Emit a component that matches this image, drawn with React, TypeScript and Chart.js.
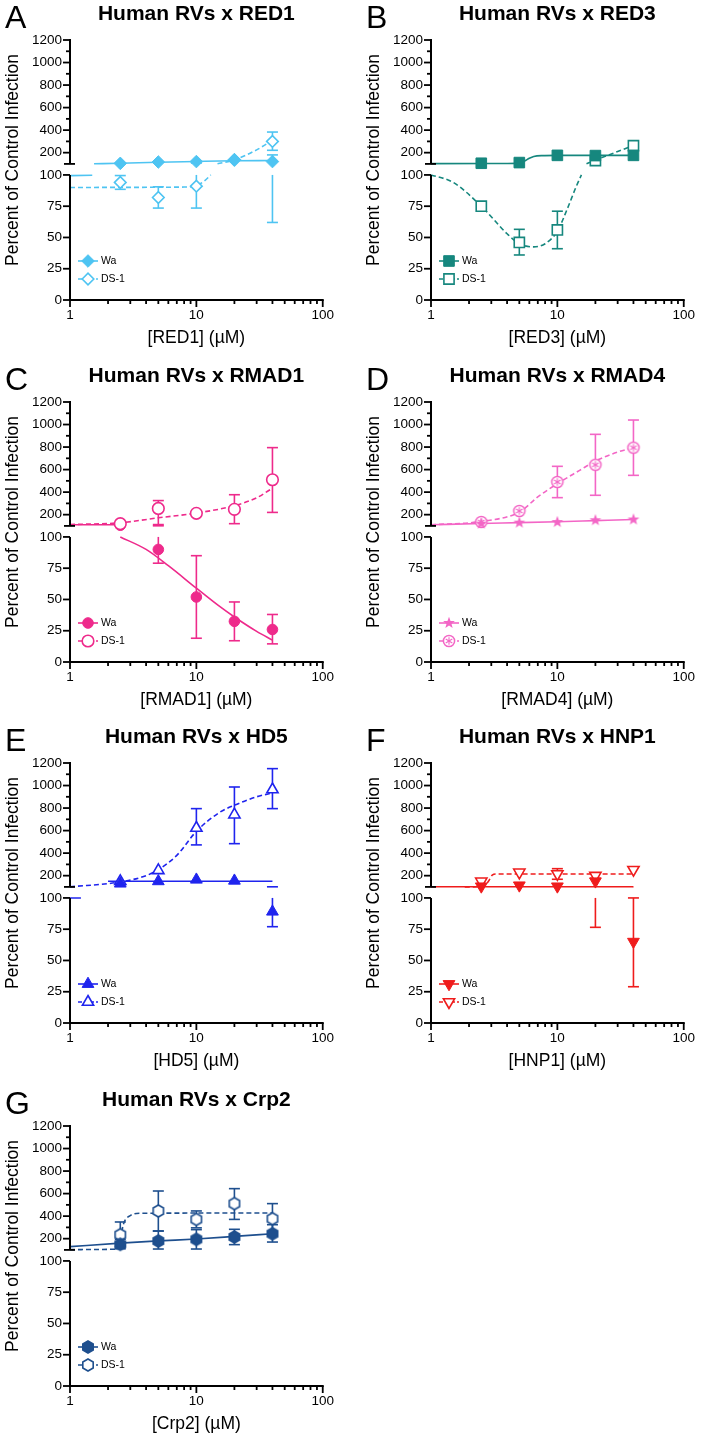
import React, { useEffect, useRef } from 'react';
import { Chart, registerables } from 'chart.js';
import { drawPoint } from 'chart.js/helpers';

Chart.register(...registerables);

const FONT = "'Liberation Sans', Arial, Helvetica, sans-serif";
Chart.defaults.font.family = FONT;

// ---------- shared ----------
const CONC = [2.5, 5, 10, 20, 40];
const X_TICKS = [1, 10, 100];
const X_MINOR = [2, 3, 4, 5, 6, 7, 8, 9, 20, 30, 40, 50, 60, 70, 80, 90];
const Y_TICKS = [0, 25, 50, 75, 100, 200, 400, 600, 800, 1000, 1200];
const Y_MINOR = [300, 500, 700, 900, 1100];
const SERIES_NAMES = ['Wa', 'DS-1'];
const Y_TITLE = 'Percent of Control Infection';

type Pair = [number, number];
type N = number | null;

// ---------- Panel A : RED1 ----------
const A_WA = [105, 117, 121, 138, 121];
const A_WA_LO: N[] = [null, null, null, null, 62];
const A_WA_HI: N[] = [null, null, null, null, 180];
const A_WA_FIT_LOW: Pair[] = [[1, 99.4], [1.5, 99.8]];
const A_WA_FIT_UP: Pair[] = [[1.55, 101], [2.5, 106], [5, 115], [10, 122], [20, 128], [40, 130]];
const A_DS = [94, 82, 91, 135, 300];
const A_DS_LO: N[] = [88.5, 73.5, 73.5, null, 221];
const A_DS_HI: N[] = [99.5, 90.5, 108, null, 383];
const A_DS_FIT_LOW: Pair[] = [[1, 90], [8, 90.3], [10, 91.5], [11.5, 95], [13, 100]];
const A_DS_FIT_UP: Pair[] = [[14.7, 101], [20, 136], [30, 225], [40, 310]];

// ---------- Panel B : RED3 ----------
const B_WA = [106, 112, 176, 174, 176];
const B_WA_LO: N[] = [null, null, null, null, null];
const B_WA_HI: N[] = [null, null, null, null, null];
const B_WA_FIT_LOW: Pair[] = [];
const B_WA_FIT_UP: Pair[] = [[1, 103], [4, 104], [5, 107], [5.5, 125], [6, 150], [6.5, 166], [7.5, 174], [10, 176], [40, 176]];
const B_DS = [75, 46, 56, 130, 262];
const B_DS_LO: N[] = [null, 36, 41, null, null];
const B_DS_HI: N[] = [null, 56.5, 71, null, null];
const B_DS_FIT_LOW: Pair[] = [[1, 100], [1.5, 94], [2.5, 75], [4, 53], [5, 45], [6.5, 42.5], [8, 45], [10, 55], [12, 73], [14, 90], [15.5, 100]];
const B_DS_FIT_UP: Pair[] = [[17, 101], [20, 135], [30, 210], [40, 265]];

// ---------- Panel C : RMAD1 ----------
const C_WA = [106, 90, 52, 32.5, 26];
const C_WA_LO: N[] = [null, 79, 19, 17, 14.5];
const C_WA_HI: N[] = [null, 101, 85, 48, 38];
const C_WA_FIT_LOW: Pair[] = [[2.5, 100], [4, 90], [6, 77], [10, 59], [15, 45], [20, 36], [30, 24.5], [40, 17.5]];
const C_WA_FIT_UP: Pair[] = [[1, 111], [2.4, 110]];
const C_DS = [120, 255, 212, 247, 510];
const C_DS_LO: N[] = [null, 112, null, 120, 220];
const C_DS_HI: N[] = [null, 325, null, 377, 795];
const C_DS_FIT_LOW: Pair[] = [];
const C_DS_FIT_UP: Pair[] = [[1, 112], [2.5, 128], [5, 172], [10, 214], [20, 280], [30, 350], [40, 435]];

// ---------- Panel D : RMAD4 ----------
const D_WA = [120, 129, 134, 150, 157];
const D_WA_LO: N[] = [null, null, null, null, null];
const D_WA_HI: N[] = [null, null, null, null, null];
const D_WA_FIT_LOW: Pair[] = [];
const D_WA_FIT_UP: Pair[] = [[1, 110], [2.5, 122], [5, 129], [10, 137], [20, 147], [40, 157]];
const D_DS = [135, 233, 490, 643, 795];
const D_DS_LO: N[] = [null, null, 351, 372, 549];
const D_DS_HI: N[] = [null, null, 629, 913, 1040];
const D_DS_FIT_LOW: Pair[] = [];
const D_DS_FIT_UP: Pair[] = [[1, 110], [2.5, 140], [5, 223], [7, 357], [10, 475], [15, 593], [20, 676], [30, 756], [40, 795]];

// ---------- Panel E : HD5 ----------
const E_WA = [129, 150, 164, 155, 89];
const E_WA_LO: N[] = [null, null, null, null, 77];
const E_WA_HI: N[] = [null, null, null, null, 101];
const E_WA_FIT_LOW: Pair[] = [[1, 100], [1.22, 100]];
const E_WA_FIT_UP: Pair[] = [[2.0, 150], [40, 150]];
const E_DS = [150, 247, 623, 741, 965];
const E_DS_LO: N[] = [null, null, 473, 484, 795];
const E_DS_HI: N[] = [null, null, 795, 987, 1150];
const E_DS_FIT_LOW: Pair[] = [];
const E_DS_FIT_UP: Pair[] = [[1, 100.5], [2.5, 144], [4, 200], [5, 253], [7, 380], [10, 593], [15, 756], [20, 825], [30, 900], [40, 934]];

// ---------- Panel F : HNP1 ----------
const F_WA = [105, 114, 105, 150, 65];
const F_WA_LO: N[] = [null, null, null, 76.5, 29];
const F_WA_HI: N[] = [null, null, null, null, 100];
const F_WA_FIT_LOW: Pair[] = [];
const F_WA_FIT_UP: Pair[] = [[1, 102], [38, 102], [40, 100.2]];
const F_DS = [150, 230, 215, 200, 253];
const F_DS_LO: N[] = [null, null, 168, 176, null];
const F_DS_HI: N[] = [null, null, 262, 224, null];
const F_DS_FIT_LOW: Pair[] = [];
const F_DS_FIT_UP: Pair[] = [[1.85, 100.5], [2.6, 103], [2.85, 150], [3.05, 205], [3.3, 215], [40, 215]];

// ---------- Panel G : Crp2 ----------
const G_WA = [150, 179, 194, 215, 244];
const G_WA_LO: N[] = [110, 108, 108, 147, 170];
const G_WA_HI: N[] = [195, 268, 280, 283, 324];
const G_WA_FIT_LOW: Pair[] = [];
const G_WA_FIT_UP: Pair[] = [[1, 129], [2.5, 160], [5, 180], [10, 197], [20, 220], [40, 244]];
const G_DS = [235, 446, 371, 511, 377];
const G_DS_LO: N[] = [127, 268, 296, 371, 244];
const G_DS_HI: N[] = [348, 623, 446, 644, 511];
const G_DS_FIT_LOW: Pair[] = [];
const G_DS_FIT_UP: Pair[] = [[1, 103], [2.2, 106], [2.45, 150], [2.65, 330], [3.0, 405], [3.6, 425], [40, 428]];

// ---------- broken axis transform ----------
const GAP = 8.8;
const K = 0.09008;
const T = (v: number) => (v <= 100 ? v : 100 + GAP + (v - 100) * K);
const UP0 = 100 + GAP;
const CAP = 5.5;

type Series = { y: number[]; lo: N[]; hi: N[]; fitLow: Pair[]; fitUp: Pair[]; kind: string };
type Panel = {
  letter: string; title: string; xTitle: string; color: string;
  left: number; top: number; h: number; wa: Series; ds: Series; dsOnTop?: boolean;
};

const S = (y: number[], lo: N[], hi: N[], fitLow: Pair[], fitUp: Pair[], kind: string): Series => ({ y, lo, hi, fitLow, fitUp, kind });

const PANELS: Panel[] = [
  { letter: 'A', title: 'Human RVs x RED1', xTitle: '[RED1] (µM)', color: '#4ec4f2', left: 0, top: 0, h: 362,
    wa: S(A_WA, A_WA_LO, A_WA_HI, A_WA_FIT_LOW, A_WA_FIT_UP, 'diamond'),
    ds: S(A_DS, A_DS_LO, A_DS_HI, A_DS_FIT_LOW, A_DS_FIT_UP, 'diamond') },
  { letter: 'B', title: 'Human RVs x RED3', xTitle: '[RED3] (µM)', color: '#16877e', left: 361, top: 0, h: 362,
    wa: S(B_WA, B_WA_LO, B_WA_HI, B_WA_FIT_LOW, B_WA_FIT_UP, 'square'),
    ds: S(B_DS, B_DS_LO, B_DS_HI, B_DS_FIT_LOW, B_DS_FIT_UP, 'square') },
  { letter: 'C', title: 'Human RVs x RMAD1', xTitle: '[RMAD1] (µM)', color: '#ee2a8b', left: 0, top: 362, h: 362, dsOnTop: true,
    wa: S(C_WA, C_WA_LO, C_WA_HI, C_WA_FIT_LOW, C_WA_FIT_UP, 'circle'),
    ds: S(C_DS, C_DS_LO, C_DS_HI, C_DS_FIT_LOW, C_DS_FIT_UP, 'circle') },
  { letter: 'D', title: 'Human RVs x RMAD4', xTitle: '[RMAD4] (µM)', color: '#f366c6', left: 361, top: 362, h: 362,
    wa: S(D_WA, D_WA_LO, D_WA_HI, D_WA_FIT_LOW, D_WA_FIT_UP, 'star'),
    ds: S(D_DS, D_DS_LO, D_DS_HI, D_DS_FIT_LOW, D_DS_FIT_UP, 'circleStar') },
  { letter: 'E', title: 'Human RVs x HD5', xTitle: '[HD5] (µM)', color: '#1f24ee', left: 0, top: 723, h: 362,
    wa: S(E_WA, E_WA_LO, E_WA_HI, E_WA_FIT_LOW, E_WA_FIT_UP, 'triangle'),
    ds: S(E_DS, E_DS_LO, E_DS_HI, E_DS_FIT_LOW, E_DS_FIT_UP, 'triangle') },
  { letter: 'F', title: 'Human RVs x HNP1', xTitle: '[HNP1] (µM)', color: '#ef1c1c', left: 361, top: 723, h: 362,
    wa: S(F_WA, F_WA_LO, F_WA_HI, F_WA_FIT_LOW, F_WA_FIT_UP, 'triangleDown'),
    ds: S(F_DS, F_DS_LO, F_DS_HI, F_DS_FIT_LOW, F_DS_FIT_UP, 'triangleDown') },
  { letter: 'G', title: 'Human RVs x Crp2', xTitle: '[Crp2] (µM)', color: '#1e4f8e', left: 0, top: 1086, h: 347,
    wa: S(G_WA, G_WA_LO, G_WA_HI, G_WA_FIT_LOW, G_WA_FIT_UP, 'hexagon'),
    ds: S(G_DS, G_DS_LO, G_DS_HI, G_DS_FIT_LOW, G_DS_FIT_UP, 'hexagon') },
];

// ---------- marker helpers ----------
function makeCanvas(draw: (c: CanvasRenderingContext2D) => void, size = 18) {
  const cv = document.createElement('canvas');
  cv.width = size; cv.height = size;
  const c = cv.getContext('2d')!;
  c.translate(size / 2, size / 2);
  draw(c);
  return cv;
}

function markerSpec(kind: string, color: string, open: boolean) {
  const bg = open ? '#ffffff' : color;
  const bw = open ? 1.6 : 1;
  switch (kind) {
    case 'diamond': return { pointStyle: 'rectRot' as any, radius: open ? 5.8 : 6.3, rotation: 0, bg, border: color, bw };
    case 'square': return { pointStyle: 'rect' as any, radius: open ? 7.2 : 7.5, rotation: 0, bg, border: color, bw };
    case 'circle': return { pointStyle: 'circle' as any, radius: open ? 5.8 : 5.3, rotation: 0, bg, border: color, bw };
    case 'triangle': return { pointStyle: 'triangle' as any, radius: open ? 6.5 : 6.8, rotation: 0, bg, border: color, bw };
    case 'triangleDown': return { pointStyle: 'triangle' as any, radius: open ? 6.5 : 6.8, rotation: 180, bg, border: color, bw };
    case 'star': {
      const cv = makeCanvas((c) => {
        c.beginPath();
        for (let k = 0; k < 10; k++) {
          const r = k % 2 === 0 ? 6.2 : 2.6;
          const a = -Math.PI / 2 + (k * Math.PI) / 5;
          const px = r * Math.cos(a), py = r * Math.sin(a);
          if (k) c.lineTo(px, py); else c.moveTo(px, py);
        }
        c.closePath(); c.fillStyle = color; c.fill();
      });
      return { pointStyle: cv as any, radius: 6, rotation: 0, bg, border: color, bw };
    }
    case 'circleStar': {
      const cv = makeCanvas((c) => {
        c.beginPath(); c.arc(0, 0, 5.6, 0, Math.PI * 2);
        c.fillStyle = '#fff'; c.fill();
        c.lineWidth = 1.5; c.strokeStyle = color; c.stroke();
        c.lineWidth = 1.1;
        for (let k = 0; k < 3; k++) {
          const a = Math.PI / 2 + (k * Math.PI) / 3;
          c.beginPath();
          c.moveTo(-3.8 * Math.cos(a), -3.8 * Math.sin(a));
          c.lineTo(3.8 * Math.cos(a), 3.8 * Math.sin(a));
          c.stroke();
        }
      });
      return { pointStyle: cv as any, radius: 6, rotation: 0, bg, border: color, bw };
    }
    case 'hexagon':
    default: {
      const cv = makeCanvas((c) => {
        c.beginPath();
        for (let k = 0; k < 6; k++) {
          const a = -Math.PI / 2 + (k * Math.PI) / 3;
          const px = 6 * Math.cos(a), py = 6 * Math.sin(a);
          if (k) c.lineTo(px, py); else c.moveTo(px, py);
        }
        c.closePath();
        c.fillStyle = open ? '#fff' : color; c.fill();
        c.lineWidth = 1.6; c.strokeStyle = color; c.stroke();
      });
      return { pointStyle: cv as any, radius: 6, rotation: 0, bg, border: color, bw };
    }
  }
}

function buildConfig(p: Panel): any {
  const specW = markerSpec(p.wa.kind, p.color, false);
  const specD = markerSpec(p.ds.kind, p.color, true);

  const fitDs = (arr: Pair[], dashed: boolean) => ({
    data: arr.map(([x, v]) => ({ x, y: T(v) })),
    borderColor: p.color, borderWidth: 1.6, borderDash: dashed ? [5, 3] : [],
    pointRadius: 0, showLine: true, cubicInterpolationMode: 'monotone', fill: false, order: 5,
  });
  const markDs = (s: Series, spec: any, order: number, label: string) => ({
    label,
    data: CONC.map((x, i) => ({ x, y: T(s.y[i]) })),
    showLine: false,
    pointStyle: spec.pointStyle, pointRadius: spec.radius, pointRotation: spec.rotation,
    pointBackgroundColor: spec.bg, pointBorderColor: spec.border, pointBorderWidth: spec.bw,
    backgroundColor: spec.bg, borderColor: p.color, order,
  });

  const datasets: any[] = [];
  if (p.wa.fitLow.length) datasets.push(fitDs(p.wa.fitLow, false));
  if (p.wa.fitUp.length) datasets.push(fitDs(p.wa.fitUp, false));
  if (p.ds.fitLow.length) datasets.push(fitDs(p.ds.fitLow, true));
  if (p.ds.fitUp.length) datasets.push(fitDs(p.ds.fitUp, true));
  datasets.push(markDs(p.wa, specW, p.dsOnTop ? 1 : 0, SERIES_NAMES[0]));
  datasets.push(markDs(p.ds, specD, p.dsOnTop ? 0 : 1, SERIES_NAMES[1]));

  const decor = {
    id: 'decor',
    beforeDatasetsDraw(chart: any) {
      const { ctx, scales: { x, y } } = chart;
      ctx.save();
      ctx.strokeStyle = p.color; ctx.lineWidth = 1.6; ctx.setLineDash([]);
      const seg = (px: number, d1: number, d2: number) => {
        ctx.beginPath(); ctx.moveTo(px, y.getPixelForValue(d1)); ctx.lineTo(px, y.getPixelForValue(d2)); ctx.stroke();
      };
      const vline = (px: number, a: number, b: number) => {
        if (b <= 100 || a >= 100) seg(px, T(a), T(b));
        else { seg(px, T(a), 100); seg(px, UP0, T(b)); }
      };
      const cap = (px: number, v: number) => {
        const py = y.getPixelForValue(T(v));
        ctx.beginPath(); ctx.moveTo(px - CAP, py); ctx.lineTo(px + CAP, py); ctx.stroke();
      };
      for (const s of [p.wa, p.ds]) {
        CONC.forEach((cx, i) => {
          const px = x.getPixelForValue(cx);
          const v = s.y[i], lo = s.lo[i], hi = s.hi[i];
          if (lo != null) { vline(px, lo, v); cap(px, lo); }
          if (hi != null) { vline(px, v, hi); cap(px, hi); }
        });
      }
      ctx.restore();
    },
    afterDraw(chart: any) {
      const { ctx, chartArea: ca, scales: { x, y } } = chart;
      const ax = ca.left;
      const yb = y.getPixelForValue(0);
      const L = (x1: number, y1: number, x2: number, y2: number) => {
        ctx.beginPath(); ctx.moveTo(x1, y1); ctx.lineTo(x2, y2); ctx.stroke();
      };
      ctx.save();
      ctx.setLineDash([]);
      ctx.strokeStyle = '#000';
      ctx.lineWidth = 2;
      L(ax, yb + 1, ax, y.getPixelForValue(100));
      L(ax, y.getPixelForValue(UP0), ax, y.getPixelForValue(T(1200)) - 1);
      L(ax - 1, yb, x.getPixelForValue(100) + 1, yb);
      ctx.lineWidth = 1.8;
      Y_TICKS.forEach((v) => { const py = y.getPixelForValue(T(v)); L(ax - 7, py, ax, py); });
      Y_MINOR.forEach((v) => { const py = y.getPixelForValue(T(v)); L(ax - 4, py, ax, py); });
      const pb = y.getPixelForValue(UP0);
      L(ax - 6, pb, ax + 5, pb);
      X_TICKS.forEach((v) => { const px = x.getPixelForValue(v); L(px, yb, px, yb + 7); });
      X_MINOR.forEach((v) => { const px = x.getPixelForValue(v); L(px, yb, px, yb + 4); });

      const cx = (ca.left + ca.right) / 2;
      ctx.fillStyle = '#000';
      ctx.textBaseline = 'alphabetic';
      ctx.textAlign = 'center';
      ctx.font = `bold 21px ${FONT}`;
      ctx.fillText(p.title, cx, 19.5);
      ctx.textAlign = 'left';
      ctx.font = `32px ${FONT}`;
      ctx.fillText(p.letter, 5, 27.5);
      ctx.textAlign = 'center';
      ctx.textBaseline = 'middle';
      ctx.font = `17.5px ${FONT}`;
      ctx.fillText(p.xTitle, cx, ca.bottom + 38);
      ctx.save();
      ctx.translate(13, ca.top + 120);
      ctx.rotate(-Math.PI / 2);
      ctx.fillText(Y_TITLE, 0, 0);
      ctx.restore();

      // legend
      const rows: [Series, any, boolean, number][] = [[p.wa, specW, false, 261], [p.ds, specD, true, 279]];
      rows.forEach(([, spec, dashed, ry], i) => {
        ctx.strokeStyle = p.color; ctx.lineWidth = 1.6;
        ctx.setLineDash(dashed ? [4, 2] : []);
        L(78, ry, 98, ry);
        ctx.setLineDash([]);
        ctx.fillStyle = spec.bg; ctx.strokeStyle = spec.border; ctx.lineWidth = spec.bw;
        drawPoint(ctx, { pointStyle: spec.pointStyle, radius: spec.radius, rotation: spec.rotation, borderWidth: spec.bw } as any, 88, ry);
        ctx.fillStyle = '#000';
        ctx.textAlign = 'left'; ctx.textBaseline = 'middle';
        ctx.font = `10.5px ${FONT}`;
        ctx.fillText(SERIES_NAMES[i], 101, ry);
      });
      ctx.restore();
    },
  };

  return {
    type: 'line',
    data: { datasets },
    options: {
      responsive: false,
      animation: false,
      events: [],
      layout: { padding: { top: 40, right: 11, left: 0, bottom: 0 } },
      plugins: { legend: { display: false }, tooltip: { enabled: false }, title: { display: false } },
      scales: {
        x: {
          type: 'logarithmic', min: 1, max: 100,
          grid: { display: false, drawTicks: false }, border: { display: false },
          ticks: { color: '#000', font: { family: FONT, size: 13.5 }, padding: 7, autoSkip: false, maxRotation: 0, callback: (v: any) => String(v) },
          afterBuildTicks: (s: any) => { s.ticks = X_TICKS.map((v) => ({ value: v })); },
          afterFit: (s: any) => { s.height = p.h - 300; },
        },
        y: {
          type: 'linear', min: 0, max: T(1200),
          grid: { display: false, drawTicks: false }, border: { display: false },
          ticks: { color: '#000', font: { family: FONT, size: 13.5 }, padding: 8, autoSkip: false, callback: (_v: any, i: number) => String(Y_TICKS[i]) },
          afterBuildTicks: (s: any) => { s.ticks = Y_TICKS.map((v) => ({ value: T(v) })); },
          afterFit: (s: any) => { s.width = 70; },
        },
      },
    },
    plugins: [decor],
  };
}

function PanelChart({ p }: { p: Panel }) {
  const ref = useRef<HTMLCanvasElement>(null);
  useEffect(() => {
    const chart = new Chart(ref.current!, buildConfig(p));
    return () => chart.destroy();
  }, [p]);
  return (
    <div style={{ position: 'absolute', left: p.left, top: p.top, width: 341, height: p.h }}>
      <canvas ref={ref} width={341} height={p.h} style={{ width: 341, height: p.h, display: 'block' }} />
    </div>
  );
}

export default function App() {
  return (
    <div style={{ position: 'absolute', left: 0, top: 0, width: 702, height: 1433, background: '#fff', overflow: 'hidden' }}>
      {PANELS.map((p) => (
        <PanelChart key={p.letter} p={p} />
      ))}
    </div>
  );
}
